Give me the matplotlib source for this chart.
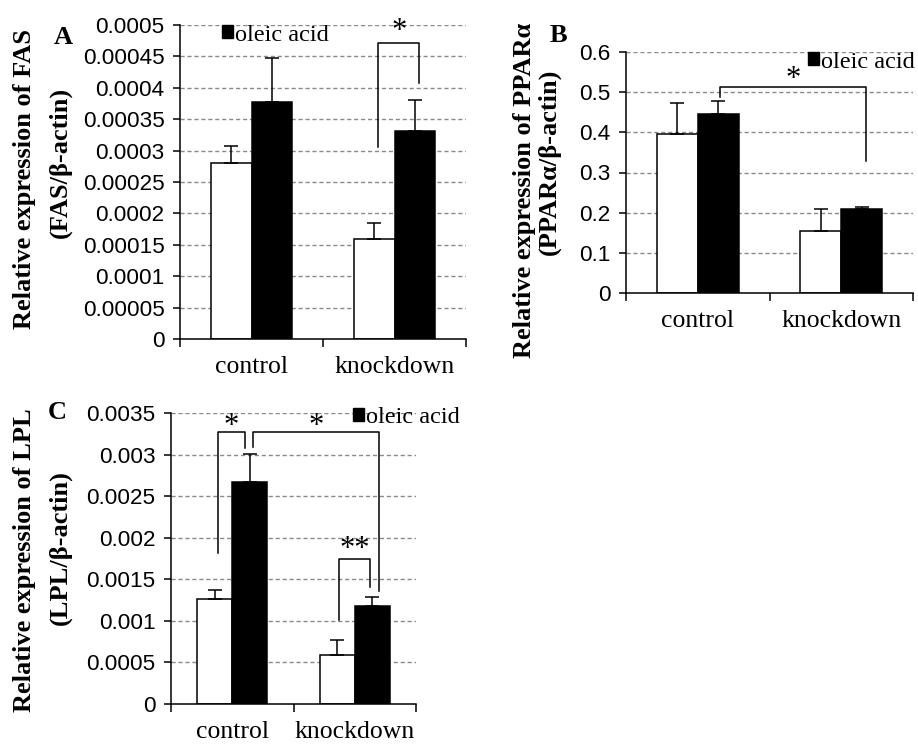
import matplotlib
matplotlib.use("Agg")
import matplotlib.pyplot as plt
from matplotlib.patches import Patch
import numpy as np

# data
groups = ["control", "knockdown"]

fas_plain = [0.00028, 0.00016]
fas_plain_err = [0.000028, 0.000025]
fas_oleic = [0.000378, 0.000332]
fas_oleic_err = [0.00007, 0.000048]

ppar_plain = [0.395, 0.155]
ppar_plain_err = [0.077, 0.053]
ppar_oleic = [0.445, 0.208]
ppar_oleic_err = [0.032, 0.007]

lpl_plain = [0.00126, 0.00059]
lpl_plain_err = [0.00011, 0.00018]
lpl_oleic = [0.00267, 0.00118]
lpl_oleic_err = [0.00034, 0.00011]

# significance brackets: (bar1, bar2, left foot, top, right foot, label, label y)
# bar index: 0 control/plain, 1 control/oleic, 2 knockdown/plain, 3 knockdown/oleic
fas_sig = [(2, 3, 0.000305, 0.000471, 0.000408, "*", 0.000489)]
ppar_sig = [(1, 3, 0.488, 0.513, 0.329, "*", 0.531)]
lpl_sig = [(0, 1, 0.00182, 0.00327, 0.00308, "*", 0.00334),
           (1, 3, 0.00309, 0.00327, 0.00136, "*", 0.00334),
           (2, 3, 0.00101, 0.00174, 0.00141, "**", 0.00186)]

W, H = 918, 744
fig = plt.figure(figsize=(W / 100, H / 100), dpi=100)

serif = "Liberation Serif"
sans = "Liberation Sans"


def px_axes(l, r, t, b):
    return fig.add_axes([l / W, 1 - b / H, (r - l) / W, (b - t) / H])


def panel(ax, plain, plain_err, oleic, oleic_err, ymax, step, fmt, sig, offs, leg_xy):
    x = np.arange(len(groups))
    w = 1 / 3.5
    ax.bar(x - w / 2, plain, w, color="white", edgecolor="black", lw=1.1, zorder=3,
           yerr=[np.zeros(2), plain_err], capsize=5,
           error_kw=dict(elinewidth=1.1, capthick=1.1, ecolor="black", zorder=4))
    ax.bar(x + w / 2, oleic, w, color="black", edgecolor="black", lw=1.1, zorder=3,
           yerr=[np.zeros(2), oleic_err], capsize=5,
           error_kw=dict(elinewidth=1.1, capthick=1.1, ecolor="black", zorder=4))
    ax.set_xlim(-0.5, 1.5)
    ax.set_ylim(0, ymax)
    ticks = np.arange(0, ymax + step / 2, step)
    ax.set_yticks(ticks)
    ax.set_yticklabels([fmt(t) for t in ticks], fontfamily=sans, fontsize=16.2)
    for t in ticks[1:]:
        ax.axhline(t, color="#8a8a8a", lw=1, ls=(0, (3, 2)), zorder=1)
    ax.set_xticks(x)
    ax.set_xticklabels(groups, fontfamily=serif, fontsize=18.5)
    ax.set_xticks([-0.5, 0.5, 1.5], minor=True)
    ax.tick_params(axis="x", which="major", length=0, pad=12)
    ax.tick_params(axis="x", which="minor", length=6, width=1.1, direction="out")
    ax.tick_params(axis="y", length=5, width=1.1, pad=6)
    for s in ["top", "right"]:
        ax.spines[s].set_visible(False)
    for s in ["left", "bottom"]:
        ax.spines[s].set_linewidth(1.1)
    ax.spines["bottom"].set_zorder(5)

    centers = [x[0] - w / 2, x[0] + w / 2, x[1] - w / 2, x[1] + w / 2]
    for (b1, b2, y1, yt, y2, lab, ly), (o1, o2) in zip(sig, offs):
        xa = centers[b1] + o1
        xb = centers[b2] + o2
        ax.plot([xa, xa, xb, xb], [y1, yt, yt, y2], color="black", lw=1.1,
                clip_on=False, zorder=6)
        ax.text((xa + xb) / 2, ly, lab, ha="center", va="center",
                fontfamily=serif, fontsize=22, zorder=6)

    ax.legend(handles=[Patch(facecolor="black", edgecolor="black")],
              labels=["oleic acid"], loc="center left", bbox_to_anchor=leg_xy,
              frameon=False, borderaxespad=0, borderpad=0, handlelength=0.45,
              handleheight=0.45, handletextpad=0.1,
              prop=dict(family=serif, size=17.5))


def trim(v):
    s = ("%.5f" % v).rstrip("0").rstrip(".")
    return s if s else "0"


axA = px_axes(180, 466, 25, 339)
panel(axA, fas_plain, fas_plain_err, fas_oleic, fas_oleic_err, 0.0005, 0.00005, trim,
      fas_sig, [(0.03, 0.03)], (0.147, 0.968))

axB = px_axes(626, 913, 52, 293)
panel(axB, ppar_plain, ppar_plain_err, ppar_oleic, ppar_oleic_err, 0.6, 0.1,
      lambda v: trim(round(v, 2)), ppar_sig, [(0.012, 0.03)], (0.634, 0.958))

axC = px_axes(171, 416, 413, 704)
panel(axC, lpl_plain, lpl_plain_err, lpl_oleic, lpl_oleic_err, 0.0035, 0.0005, trim,
      lpl_sig, [(0.027, -0.039), (0.026, 0.055), (0.014, -0.019)], (0.743, 0.983))

# y labels and panel letters
def ylab(xp1, yp1, t1, xp2, yp2, t2):
    fig.text(xp1 / W, 1 - yp1 / H, t1, rotation=90, ha="center", va="center",
             fontfamily=serif, fontweight="bold", fontsize=19)
    fig.text(xp2 / W, 1 - yp2 / H, t2, rotation=90, ha="center", va="center",
             fontfamily=serif, fontweight="bold", fontsize=19)


ylab(25, 179, "Relative expression of FAS", 60, 162, "(FAS/β-actin)")
ylab(524, 190, "Relative expression of PPARα", 549, 162, "(PPARα/β-actin)")
ylab(25, 560, "Relative expression of LPL", 60, 548, "(LPL/β-actin)")

for lx, ly, lt in [(63, 37, "A"), (558, 35, "B"), (57, 413, "C")]:
    fig.text(lx / W, 1 - ly / H, lt, ha="center", va="center",
             fontfamily=serif, fontweight="bold", fontsize=19)

fig.savefig("out.png", dpi=100)
